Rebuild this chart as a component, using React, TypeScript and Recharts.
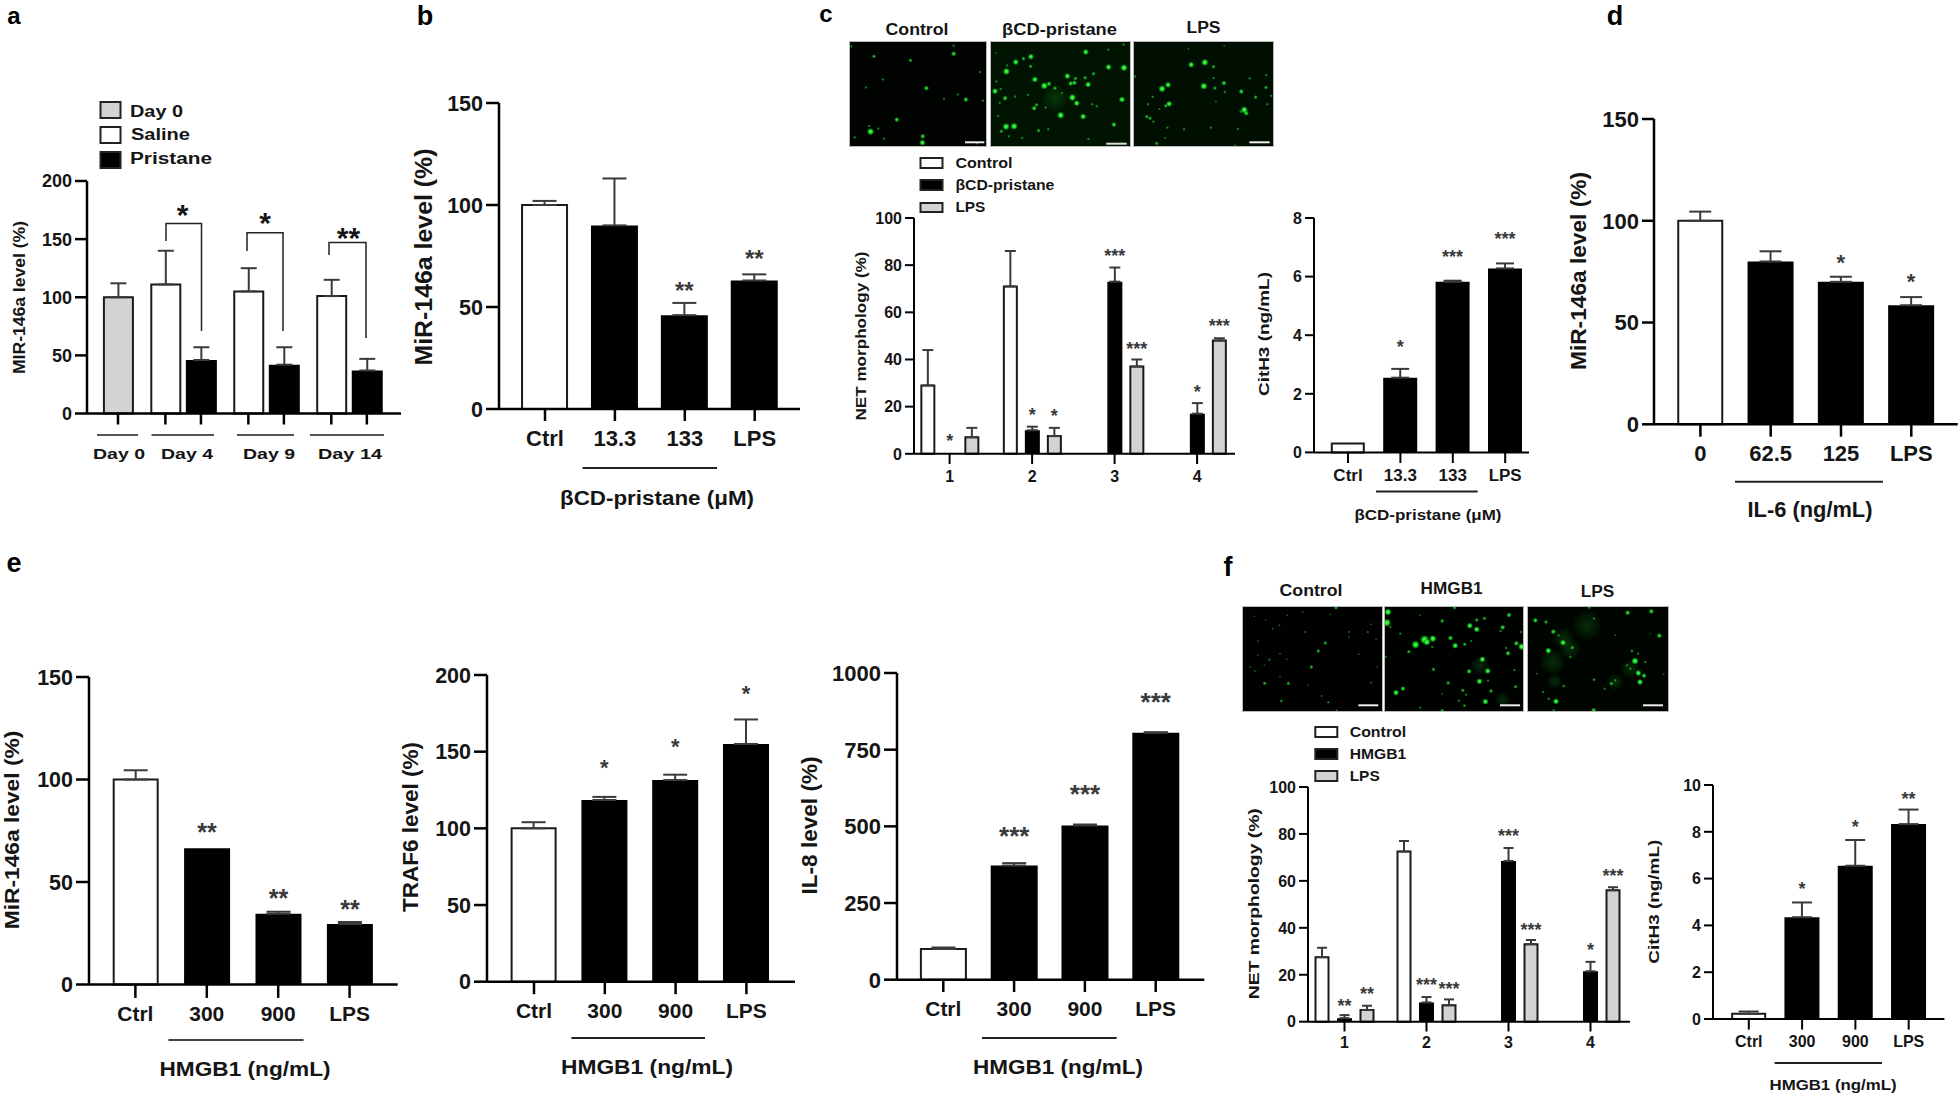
import React from "react";
import { BarChart, Bar, XAxis, YAxis, ErrorBar, Rectangle, ScatterChart, Scatter } from "recharts";

const FONT = "'Liberation Sans', Arial, sans-serif";
const WHITE = "#ffffff", BLACK = "#000000", GRAY = "#d3d3d3";

/* ---------- panel a ---------- */
const aCats = ["d0", "_1", "_2", "_3", "d4s", "_5", "_6", "d4p", "_8", "_9", "_10", "d9s", "_12", "_13", "d9p", "_15", "_16", "_17", "d14s", "_19", "_20", "d14p"];
const aVals = [100, null, null, null, 111, null, null, 46, null, null, null, 105, null, null, 42, null, null, null, 101, null, null, 37];
const aTops = [112, null, null, null, 140, null, null, 57, null, null, null, 125, null, null, 57, null, null, null, 115, null, null, 47];
const aFills = [GRAY, WHITE, WHITE, WHITE, WHITE, WHITE, WHITE, BLACK, WHITE, WHITE, WHITE, WHITE, WHITE, WHITE, BLACK, WHITE, WHITE, WHITE, WHITE, WHITE, WHITE, BLACK];

/* ---------- panel b ---------- */
const bCats = ["Ctrl", "13.3", "133", "LPS"];
const bVals = [100, 90, 46, 63];
const bTops = [102, 113, 52, 66];
const bStars = ["", "", "**", "**"];
const bStarLv = [0, 0, 60.5, 76];

/* ---------- panel c ---------- */
const netCats = ["1", "2", "3", "4"];
const cControl = [29, 71, null, null];
const cControlTop = [44, 86, null, null];
const cPristane = [0, 10, 73, 17];
const cPristaneTop = [null, 11.5, 79, 21.5];
const cPristaneStars = ["*", "*", "***", "*"];
const cPristaneLv = [7, 18, 85.7, 28];
const cLps = [7, 7.5, 37, 48];
const cLpsTop = [11, 11, 40, 49];
const cLpsStars = ["", "*", "***", "***"];
const cLpsLv = [0, 17.7, 46, 55.7];
const cCitVals = [0.3, 2.55, 5.82, 6.28];
const cCitTops = [null, 2.85, 5.86, 6.45];
const cCitStars = ["", "*", "***", "***"];
const cCitLv = [0, 3.73, 6.81, 7.42];

/* ---------- panel d ---------- */
const dCats = ["0", "62.5", "125", "LPS"];
const dVals = [100, 80, 70, 58.5];
const dTops = [104.5, 85, 72.5, 62.5];
const dStars = ["", "", "*", "*"];
const dLv = [0, 0, 81.9, 72.2];

/* ---------- panel e ---------- */
const eCats = ["Ctrl", "300", "900", "LPS"];
const e1Vals = [100, 66.5, 34.5, 29.5];
const e1Tops = [104.5, null, 35.5, 30.5];
const e1Stars = ["", "**", "**", "**"];
const e1Lv = [0, 76.8, 44.6, 39.3];
const e2Vals = [100, 118.5, 131.5, 155];
const e2Tops = [104, 120.5, 135, 171];
const e2Stars = ["", "*", "*", "*"];
const e2Lv = [0, 143, 156.5, 190.7];
const e3Vals = [100, 372, 503, 805];
const e3Tops = [105, 380, 506, 807];
const e3Stars = ["", "***", "***", "***"];
const e3Lv = [0, 485, 622, 922];

/* ---------- panel f ---------- */
const fControl = [27.5, 72.5, null, null];
const fControlTop = [31.5, 77, null, null];
const fHmgb = [1.5, 8.2, 68.5, 21.5];
const fHmgbTop = [2.8, 10.5, 74, 25.5];
const fHmgbStars = ["**", "***", "***", "*"];
const fHmgbLv = [8.2, 17.2, 80.8, 32.3];
const fLps = [5, 7, 33, 56];
const fLpsTop = [6.8, 9.5, 34.8, 57.3];
const fLpsStars = ["**", "***", "***", "***"];
const fLpsLv = [13.6, 15.4, 40.8, 63.7];
const fCitVals = [0.22, 4.35, 6.55, 8.33];
const fCitTops = [0.32, 4.98, 7.65, 8.95];
const fCitStars = ["", "*", "*", "**"];
const fCitLv = [0, 5.71, 8.36, 9.58];

/* ---------- micrograph spots: x, y, brightness ---------- */
const c1Spots = [[85,65,1.5],[325,57,2],[195,77,1.5],[17,35,1],[112,134,1],[243,160,2],[61,158,1],[362,194,2],[338,179,1],[296,192,1],[413,197,1],[404,112,1],[154,254,2],[75,290,3],[98,281,1],[71,273,1],[27,307,1],[232,304,2],[231,323,2.5],[115,311,1],[325,33,1],[395,325,1]];
const c2Spots = [[630,190,12],[722,52,2.5],[558,66,2.5],[536,72,1.5],[513,82,2.5],[557,95,1.5],[487,92,1],[485,110,3],[790,97,2.5],[836,99,3],[789,45,1],[745,117,1.5],[667,124,2.5],[691,131,1.5],[720,129,1.5],[688,144,2],[677,146,2],[729,149,2.5],[570,134,2.5],[612,147,2],[598,153,3],[630,160,1.5],[455,140,1],[451,169,2.5],[468,163,1],[651,175,1],[549,180,1],[481,190,2],[511,185,1],[682,188,3],[695,205,2.5],[830,194,2.5],[465,204,1],[575,210,1.5],[568,220,2],[602,218,1],[741,208,1],[755,214,1],[647,241,3],[714,245,2.5],[460,243,1],[484,275,3],[508,274,3],[470,289,1.5],[492,304,1],[581,287,1.5],[610,283,1],[806,269,2],[532,309,1],[730,312,1],[835,30,1],[455,55,0.7]];
const c3Spots = [[198,90,2.5],[239,83,3],[265,96,1.5],[111,162,3],[129,150,2.5],[236,154,3],[296,145,2],[299,172,1],[269,160,1.5],[348,170,2],[373,131,1],[423,121,1],[422,158,1.5],[391,187,1.5],[437,183,1],[426,208,1],[132,207,2.5],[122,213,1.5],[83,186,1],[69,208,1],[357,225,3],[363,235,2],[346,230,1],[65,245,1.5],[75,250,1.5],[85,260,1],[103,222,0.8],[127,278,1],[177,283,1],[257,278,1],[338,282,1],[120,309,0.8],[95,325,1.5],[330,332,1],[30,125,1],[297,33,0.7],[190,42,0.7],[265,130,1],[272,200,0.7]];
const f1Spots = [[271,128,1.5],[250,152,1.5],[229,200,1.5],[103,178,1],[89,249,1.5],[160,249,1.5],[139,302,1.2],[280,306,1],[303,22,1.5],[305,331,1],[260,287,0.8],[409,247,0.8],[342,95,0.8],[398,95,0.8],[211,95,0.8],[133,75,0.7],[113,85,0.7],[68,122,0.6],[68,165,0.6],[135,160,0.6],[155,177,0.6],[59,212,0.7],[135,229,0.6],[45,200,0.6],[427,200,0.6],[372,162,0.6],[58,48,0.6],[92,58,0.6],[157,45,0.6],[203,35,0.6],[286,42,0.6],[342,110,0.6],[423,117,0.6],[408,72,0.6],[220,255,0.6],[88,195,0.6]];
const f2Spots = [[803,298,7],[735,195,9],[455,67,3.5],[458,35,3],[541,133,3.5],[568,118,4],[593,115,3],[575,125,3],[658,22,1.5],[621,62,1.5],[704,76,2.5],[725,87,2.5],[748,54,1.5],[725,59,1.5],[822,44,2],[803,81,2],[797,92,1],[858,95,1],[646,113,2],[660,136,2.5],[689,132,1.5],[708,122,1],[844,129,2],[860,139,3],[819,159,2],[813,143,1],[521,154,1.5],[495,100,1],[451,170,1],[742,177,2.5],[758,212,2.5],[702,213,2],[838,209,1],[595,207,1.5],[733,243,2.5],[759,241,1],[639,248,1.5],[842,259,1.5],[768,272,1.5],[503,265,2],[482,277,2.5],[683,270,1.5],[693,283,1],[671,301,1],[751,304,2.5],[688,316,1.2],[621,331,1.5],[555,322,1],[620,280,0.7],[465,80,1],[555,45,0.7],[591,140,1]];
const f3Spots = [[145,115,10],[165,145,10],[112,185,12],[215,75,14],[118,243,7],[345,205,9],[300,245,8],[60,60,2],[92,65,1.5],[114,94,2],[143,127,2.5],[99,151,2.5],[171,142,1.5],[165,170,1],[130,105,1],[337,37,2],[408,33,2],[432,106,2],[222,20,1.5],[236,55,1],[350,152,1.2],[368,160,1],[359,182,3],[369,218,2.5],[386,226,2],[374,245,2.5],[345,205,1],[335,195,1],[390,185,1],[236,238,1.2],[288,250,1.5],[268,265,1],[300,240,1],[145,257,1.2],[83,275,1],[122,303,2.5],[100,295,1],[115,330,1],[235,330,2],[300,105,0.7],[445,222,0.7],[64,220,0.7],[405,100,0.5]];

/* ---------- text ---------- */
const panelLetters = [["a",14,24,24],["b",425,24.5,27],["c",826,22,24],["d",1615,25,27],["e",14,572,27],["f",1228,576,27]];
const aLegendNames = ["Day 0", "Saline", "Pristane"];
const cLegendNames = ["Control", "βCD-pristane", "LPS"];
const fLegendNames = ["Control", "HMGB1", "LPS"];

const T = ({ x, y, s, size, len, rot, anchor = "middle", weight = 700, fill = "#151515" }: any) => (
  <text x={x} y={y} textAnchor={anchor} fontSize={size} fontWeight={weight} fill={fill} fontFamily={FONT}
    textLength={len} lengthAdjust="spacingAndGlyphs" transform={rot ? `rotate(-90 ${x} ${y})` : undefined}>{s}</text>
);
const L = ({ x1, x2, y1, y2, w = 2, c = "#222" }: any) => <line x1={x1} x2={x2} y1={y1} y2={y2} stroke={c} strokeWidth={w} />;

function BarPanel({ x0, x1, top, bottom, max, ticks, cats, c0, dc, barW, gap = 0, series, tickFont, xFont, tickLen, xTickEnd, xBase, axisW, starSize, capW, errW = 2, showX = true }: any) {
  const yw = 70, mt = 14, xh = 70;
  const lastC = c0 + dc * (cats.length - 1);
  const padL = c0 - dc / 2 - x0;
  const padR = x1 - (lastC + dc / 2);
  const ppu = (bottom - top) / max;
  const rows = cats.map((c: string, i: number) => {
    const r: any = { cat: c };
    series.forEach((s: any) => {
      r[s.key] = s.values[i];
      const t = s.tops ? s.tops[i] : null;
      r[s.key + "_e"] = t == null || s.values[i] == null ? null : [0, Math.max(t - s.values[i], 0)];
    });
    return r;
  });
  const YTick = ({ x, y, payload }: any) => (
    <text x={x} y={y + tickFont * 0.36} textAnchor="end" fontSize={tickFont} fontWeight={700} fill="#151515" fontFamily={FONT}>{payload.value}</text>
  );
  const XTick = ({ x, payload }: any) => {
    const v = String(payload.value);
    if (v.startsWith("_")) return null;
    const base = bottom - top + mt;
    return (
      <g>
        <line x1={x} x2={x} y1={base} y2={base + (xTickEnd - bottom)} stroke="#000" strokeWidth={axisW} />
        {showX && <text x={x} y={base + (xBase - bottom)} textAnchor="middle" fontSize={xFont} fontWeight={700} fill="#151515" fontFamily={FONT}>{v}</text>}
      </g>
    );
  };
  const shapeFor = (s: any) => (p: any) => {
    const found = cats.indexOf(p.payload?.cat ?? p.cat);
    const i = found >= 0 ? found : p.index;
    const fill = s.fills ? s.fills[i] : s.fill;
    const sw = fill === BLACK ? 0 : 2;
    const star = s.stars ? s.stars[i] : "";
    const base = bottom - top + mt;
    const cx = p.x + p.width / 2;
    const drawW = Math.max(p.width, barW);
    return (
      <g>
        {p.height > 0 && <Rectangle x={cx - drawW / 2 + sw / 2} y={p.y} width={drawW - sw} height={p.height} fill={fill} stroke={sw ? "#1a1a1a" : "none"} strokeWidth={sw} />}
        {star && <text x={cx} y={base - s.levels[i] * ppu + starSize * 0.55} textAnchor="middle" fontSize={starSize} fontWeight={700} fill="#3a3a3a" fontFamily={FONT}>{star}</text>}
      </g>
    );
  };
  return (
    <div style={{ position: "absolute", left: x0 - yw, top: top - mt }}>
      <BarChart width={x1 - x0 + yw + 2} height={bottom - top + mt + xh} data={rows} barSize={barW} barGap={gap} margin={{ top: mt, left: 0, right: 2, bottom: 0 }}>
        <XAxis dataKey="cat" type="category" interval={0} height={xh} padding={{ left: padL, right: padR }} axisLine={{ stroke: "#000", strokeWidth: axisW }} tickLine={false} tick={XTick} />
        <YAxis type="number" domain={[0, max]} ticks={ticks} interval={0} width={yw} tickSize={tickLen} tickMargin={3} axisLine={{ stroke: "#000", strokeWidth: axisW }} tickLine={{ stroke: "#000", strokeWidth: axisW }} tick={YTick} />
        {series.map((s: any) => (
          <Bar key={s.key} dataKey={s.key} isAnimationActive={false} shape={shapeFor(s)}>
            <ErrorBar dataKey={s.key + "_e"} direction="y" width={capW} stroke="#3a3a3a" strokeWidth={errW} isAnimationActive={false} />
          </Bar>
        ))}
      </BarChart>
    </div>
  );
}

function Micro({ left, top, w, h, dom, spots, bg }: any) {
  const data = spots.map((s: number[]) => ({ x: s[0], y: s[1], b: s[2] }));
  const Spot = ({ cx, cy, payload }: any) => {
    const b = payload.b;
    if (b >= 6) return <circle cx={cx} cy={cy} r={b * 1.1} fill="url(#glowGrad)" />;
    return <circle cx={cx} cy={cy} r={0.7 + 1.0 * b} fill="url(#spotGrad)" opacity={Math.min(1, 0.2 + 0.3 * b)} />;
  };
  return (
    <div style={{ position: "absolute", left, top, width: w, height: h, background: bg, outline: "1px solid #b8b8b8" }}>
      <ScatterChart width={w} height={h} margin={{ top: 0, left: 0, right: 0, bottom: 0 }}>
        <XAxis type="number" dataKey="x" domain={[dom[0], dom[1]]} hide allowDataOverflow />
        <YAxis type="number" dataKey="y" domain={[dom[2], dom[3]]} reversed hide allowDataOverflow />
        <Scatter data={data} isAnimationActive={false} shape={Spot} />
      </ScatterChart>
    </div>
  );
}

const netSeries = (ctl: any, ctlTop: any, blk: any, blkTop: any, blkS: any, blkL: any, lp: any, lpTop: any, lpS: any, lpL: any) => [
  { key: "control", values: ctl, tops: ctlTop, fill: WHITE },
  { key: "treat", values: blk, tops: blkTop, fill: BLACK, stars: blkS, levels: blkL },
  { key: "lps", values: lp, tops: lpTop, fill: GRAY, stars: lpS, levels: lpL },
];
const oneSeries = (vals: any, tops: any, stars: any, levels: any) => [
  { key: "v", values: vals, tops, stars, levels, fills: [WHITE, BLACK, BLACK, BLACK] },
];

const Swatch = ({ x, y, w, h, fill }: any) => <rect x={x} y={y} width={w} height={h} fill={fill} stroke="#222" strokeWidth={2} />;

export default function App() {
  return (
    <div style={{ position: "absolute", left: 0, top: 0, width: 1960, height: 1096, overflow: "hidden", background: "#fff" }}>
      <svg width={0} height={0} style={{ position: "absolute" }}>
        <defs>
          <radialGradient id="spotGrad">
            <stop offset="0%" stopColor="#6dff6d" />
            <stop offset="40%" stopColor="#1de82c" />
            <stop offset="75%" stopColor="#0a9a18" stopOpacity={0.7} />
            <stop offset="100%" stopColor="#067a10" stopOpacity={0} />
          </radialGradient>
          <radialGradient id="glowGrad">
            <stop offset="0%" stopColor="#18a825" stopOpacity={0.24} />
            <stop offset="70%" stopColor="#128a1c" stopOpacity={0.12} />
            <stop offset="100%" stopColor="#0a6a12" stopOpacity={0} />
          </radialGradient>
        </defs>
      </svg>

      {/* a */}
      <BarPanel x0={87} x1={401} top={180.5} bottom={413} max={200} ticks={[0, 50, 100, 150, 200]} cats={aCats} c0={118} dc={11.85} barW={31}
        series={[{ key: "v", values: aVals, tops: aTops, fills: aFills }]} tickFont={18} xFont={15} tickLen={12} xTickEnd={424} xBase={440} axisW={2.5} starSize={30} capW={8} showX={false} />
      {/* b */}
      <BarPanel x0={499} x1={800} top={103} bottom={409} max={150} ticks={[0, 50, 100, 150]} cats={bCats} c0={545} dc={69.9} barW={47}
        series={oneSeries(bVals, bTops, bStars, bStarLv)} tickFont={21.5} xFont={22} tickLen={13} xTickEnd={421} xBase={445.5} axisW={2.5} starSize={24} capW={12} />
      {/* c NET */}
      <BarPanel x0={914} x1={1235} top={218} bottom={453.8} max={100} ticks={[0, 20, 40, 60, 80, 100]} cats={netCats} c0={949.6} dc={82.5} barW={15} gap={7}
        series={netSeries(cControl, cControlTop, cPristane, cPristaneTop, cPristaneStars, cPristaneLv, cLps, cLpsTop, cLpsStars, cLpsLv)} tickFont={16} xFont={16} tickLen={9} xTickEnd={464} xBase={482} axisW={2} starSize={18} capW={5.5} />
      {/* c CitH3 */}
      <BarPanel x0={1314} x1={1529} top={218} bottom={452.4} max={8} ticks={[0, 2, 4, 6, 8]} cats={bCats} c0={1348} dc={52.4} barW={34}
        series={oneSeries(cCitVals, cCitTops, cCitStars, cCitLv)} tickFont={16} xFont={17} tickLen={9} xTickEnd={463} xBase={481} axisW={2} starSize={18} capW={9} />
      {/* d */}
      <BarPanel x0={1654.3} x1={1958} top={119} bottom={424.3} max={150} ticks={[0, 50, 100, 150]} cats={dCats} c0={1700.7} dc={70.3} barW={46}
        series={oneSeries(dVals, dTops, dStars, dLv)} tickFont={22} xFont={22} tickLen={12} xTickEnd={436.7} xBase={461} axisW={2.5} starSize={22} capW={11} />
      {/* e */}
      <BarPanel x0={89.3} x1={398} top={676.5} bottom={984} max={150} ticks={[0, 50, 100, 150]} cats={eCats} c0={135.7} dc={71.4} barW={46}
        series={oneSeries(e1Vals, e1Tops, e1Stars, e1Lv)} tickFont={21.5} xFont={21} tickLen={13} xTickEnd={997.4} xBase={1020.5} axisW={2.5} starSize={25} capW={12} />
      <BarPanel x0={487} x1={795} top={674.8} bottom={981.5} max={200} ticks={[0, 50, 100, 150, 200]} cats={eCats} c0={534} dc={70.8} barW={46}
        series={oneSeries(e2Vals, e2Tops, e2Stars, e2Lv)} tickFont={21.5} xFont={21} tickLen={13} xTickEnd={994} xBase={1017.7} axisW={2.5} starSize={22} capW={12} />
      <BarPanel x0={896.7} x1={1204} top={673} bottom={979.7} max={1000} ticks={[0, 250, 500, 750, 1000]} cats={eCats} c0={943} dc={70.8} barW={47}
        series={oneSeries(e3Vals, e3Tops, e3Stars, e3Lv)} tickFont={22} xFont={21} tickLen={13} xTickEnd={992} xBase={1016} axisW={2.5} starSize={26} capW={12} />
      {/* f */}
      <BarPanel x0={1308} x1={1630} top={786.5} bottom={1021.2} max={100} ticks={[0, 20, 40, 60, 80, 100]} cats={netCats} c0={1344.5} dc={82} barW={15} gap={7.5}
        series={netSeries(fControl, fControlTop, fHmgb, fHmgbTop, fHmgbStars, fHmgbLv, fLps, fLpsTop, fLpsStars, fLpsLv)} tickFont={16} xFont={16} tickLen={9} xTickEnd={1031} xBase={1047.8} axisW={2} starSize={18} capW={5} />
      <BarPanel x0={1713} x1={1944.4} top={785.4} bottom={1019.4} max={10} ticks={[0, 2, 4, 6, 8, 10]} cats={eCats} c0={1748.8} dc={53.3} barW={35}
        series={oneSeries(fCitVals, fCitTops, fCitStars, fCitLv)} tickFont={16} xFont={16} tickLen={9} xTickEnd={1030} xBase={1047} axisW={2} starSize={18} capW={10} />

      {/* micrographs */}
      <Micro left={849.5} top={42} w={136.5} h={104} dom={[13, 424, 22, 333]} spots={c1Spots} bg="#000300" />
      <Micro left={991} top={42} w={139} h={104} dom={[439, 854, 22, 333]} spots={c2Spots} bg="#011402" />
      <Micro left={1134} top={42} w={139} h={104} dom={[27, 443, 22, 333]} spots={c3Spots} bg="#010f02" />
      <Micro left={1243} top={606.7} w={138.7} h={104} dom={[24, 440, 20, 332]} spots={f1Spots} bg="#000100" />
      <Micro left={1384.7} top={606.7} w={138.3} h={104} dom={[449, 865, 20, 332]} spots={f2Spots} bg="#000200" />
      <Micro left={1527.7} top={606.7} w={140} h={104} dom={[38, 458, 20, 332]} spots={f3Spots} bg="#000500" />

      <svg width={1960} height={1096} style={{ position: "absolute", left: 0, top: 0, pointerEvents: "none" }}>
        {panelLetters.map(([s, x, y, z]: any) => <T key={s} x={x} y={y} s={s} size={z} fill="#000" />)}

        {/* scale bars */}
        <L x1={965} x2={984.3} y1={142.3} y2={142.3} c="#eee" />
        <L x1={1106.3} x2={1126.7} y1={143.7} y2={143.7} c="#ddd" />
        <L x1={1249.3} x2={1269.7} y1={142.3} y2={142.3} c="#eee" />
        <L x1={1358.3} x2={1378.3} y1={705.3} y2={705.3} c="#eee" />
        <L x1={1500} x2={1520} y1={705.3} y2={705.3} c="#eee" />
        <L x1={1643} x2={1663} y1={705.3} y2={705.3} c="#eee" />

        {/* panel a */}
        <Swatch x={100.5} y={102} w={20} h={16} fill={GRAY} />
        <Swatch x={100.5} y={127} w={20} h={16} fill={WHITE} />
        <Swatch x={100.5} y={152} w={20} h={16} fill={BLACK} />
        <T x={130} y={116.5} s={aLegendNames[0]} size={16} len={53} anchor="start" />
        <T x={131} y={140} s={aLegendNames[1]} size={16} len={59} anchor="start" />
        <T x={130} y={164} s={aLegendNames[2]} size={16} len={82} anchor="start" />
        <T x={24.5} y={297.5} s="MIR-146a level (%)" size={16} len={153} rot />
        <L x1={97} x2={138} y1={435} y2={435} c="#555" />
        <L x1={151.5} x2={214} y1={435} y2={435} c="#555" />
        <L x1={237} x2={294} y1={435} y2={435} c="#555" />
        <L x1={310} x2={384} y1={435} y2={435} c="#555" />
        <T x={119} y={458.6} s="Day 0" size={15} len={52} />
        <T x={187} y={458.6} s="Day 4" size={15} len={52} />
        <T x={269} y={458.6} s="Day 9" size={15} len={52} />
        <T x={350} y={458.6} s="Day 14" size={15} len={64} />
        <polyline points="166,241 166,223.4 201.5,223.4 201.5,331" fill="none" stroke="#222" strokeWidth={1.5} />
        <polyline points="247,251 247,232.8 283,232.8 283,331" fill="none" stroke="#222" strokeWidth={1.5} />
        <polyline points="329,255 329,242.4 366,242.4 366,338" fill="none" stroke="#222" strokeWidth={1.5} />
        <T x={182.6} y={225} s="*" size={30} />
        <T x={265} y={233} s="*" size={30} />
        <T x={348.5} y={248} s="**" size={30} />

        {/* panel b */}
        <T x={432} y={257} s="MiR-146a level (%)" size={23} len={217} rot />
        <L x1={582.6} x2={717} y1={468} y2={468} />
        <T x={657} y={505} s="βCD-pristane (μM)" size={20} len={194} />

        {/* panel c */}
        <T x={917} y={34.5} s="Control" size={16} len={63} />
        <T x={1059.5} y={34.5} s="βCD-pristane" size={16} len={115} />
        <T x={1203.5} y={32.8} s="LPS" size={16} len={34} />
        <Swatch x={920.5} y={158} w={22} h={10} fill={WHITE} />
        <Swatch x={920.5} y={180} w={22} h={10} fill={BLACK} />
        <Swatch x={920.5} y={203} w={22} h={9} fill={GRAY} />
        <T x={955.4} y={168} s={cLegendNames[0]} size={14} len={57} anchor="start" />
        <T x={955.4} y={190} s={cLegendNames[1]} size={14} len={99} anchor="start" />
        <T x={955.4} y={212} s={cLegendNames[2]} size={14} len={30} anchor="start" />
        <T x={865.6} y={336} s="NET morphology (%)" size={14} len={169} rot />
        <T x={1268.7} y={334} s="CitH3 (ng/mL)" size={15} len={124} rot />
        <L x1={1376} x2={1477.7} y1={491.4} y2={491.4} />
        <T x={1428} y={520} s="βCD-pristane (μM)" size={14} len={147} />

        {/* panel d */}
        <T x={1586} y={271} s="MiR-146a level (%)" size={22} len={198} rot />
        <L x1={1735} x2={1883} y1={481.7} y2={481.7} />
        <T x={1810} y={516.7} s="IL-6 (ng/mL)" size={22} len={125} />

        {/* panel e */}
        <T x={19} y={830} s="MiR-146a level (%)" size={20} len={198.6} rot />
        <L x1={168.4} x2={303.6} y1={1040} y2={1040} c="#444" />
        <T x={245} y={1075.5} s="HMGB1 (ng/mL)" size={20} len={171} />
        <T x={418} y={827} s="TRAF6 level (%)" size={22} len={170} rot />
        <L x1={571.4} x2={705} y1={1038} y2={1038} />
        <T x={647} y={1073.7} s="HMGB1 (ng/mL)" size={20} len={172} />
        <T x={816.7} y={825.5} s="IL-8 level (%)" size={22} len={138} rot />
        <L x1={982} x2={1116.7} y1={1038} y2={1038} />
        <T x={1058} y={1073.7} s="HMGB1 (ng/mL)" size={20} len={170} />

        {/* panel f */}
        <T x={1311} y={596} s="Control" size={16} len={63} />
        <T x={1451.6} y={594.3} s="HMGB1" size={16} len={62} />
        <T x={1597.5} y={597.4} s="LPS" size={16} len={33.5} />
        <Swatch x={1315.3} y={727} w={22} h={10} fill={WHITE} />
        <Swatch x={1315.3} y={749} w={22} h={10} fill={BLACK} />
        <Swatch x={1315.3} y={771} w={22} h={10} fill={GRAY} />
        <T x={1349.7} y={736.8} s={fLegendNames[0]} size={14} len={56.5} anchor="start" />
        <T x={1349.7} y={759} s={fLegendNames[1]} size={14} len={56.5} anchor="start" />
        <T x={1349.7} y={781} s={fLegendNames[2]} size={14} len={30} anchor="start" />
        <T x={1259} y={903.7} s="NET morphology (%)" size={15} len={191} rot />
        <T x={1658.8} y={901.7} s="CitH3 (ng/mL)" size={15} len={124} rot />
        <L x1={1774.6} x2={1882} y1={1063} y2={1063} />
        <T x={1833} y={1090} s="HMGB1 (ng/mL)" size={14} len={127} />
      </svg>
    </div>
  );
}
